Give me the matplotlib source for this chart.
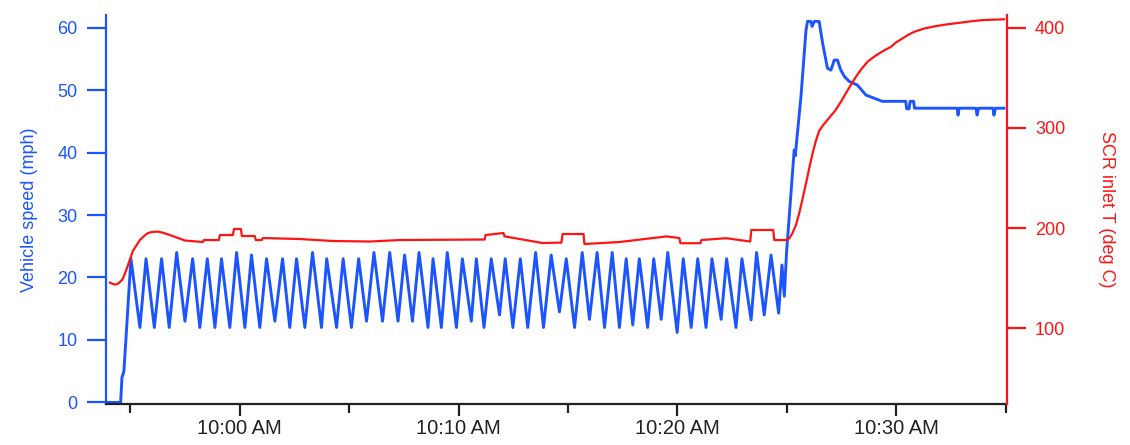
import matplotlib
matplotlib.use("Agg")
import matplotlib.pyplot as plt
import matplotlib.dates as mdates
import pandas as pd

# time in minutes relative to 10:00 AM
speed_min = [
    -6.12, -5.45, -5.39, -5.30, -5.07, -4.98, -4.57, -4.29, -3.91, -3.58,
    -3.23, -2.89, -2.51, -2.16, -1.83, -1.49, -1.14, -0.84, -0.46, -0.15,
    0.23, 0.53, 0.91, 1.22, 1.60, 1.95, 2.28, 2.59, 2.97, 3.32,
    3.73, 3.97, 4.42, 4.72, 5.10, 5.43, 5.79, 6.13, 6.52, 6.85,
    7.23, 7.53, 7.89, 8.19, 8.60, 8.83, 9.21, 9.48, 9.90, 10.17,
    10.58, 10.81, 11.16, 11.49, 11.87, 12.13, 12.48, 12.82, 13.16, 13.52,
    13.88, 14.23, 14.61, 14.92, 15.30, 15.65, 15.98, 16.33, 16.67, 17.02,
    17.35, 17.66, 17.96, 18.26, 18.64, 18.92, 19.26, 19.56, 19.99, 20.27,
    20.63, 20.93, 21.31, 21.58, 22.00, 22.25, 22.68, 22.95, 23.37, 23.62,
    23.97, 24.28, 24.63, 24.78, 24.89, 24.99, 25.34, 25.39, 25.43, 25.65,
    25.88, 25.95, 26.10, 26.16, 26.26, 26.48, 26.64, 26.86, 27.02, 27.17,
    27.32, 27.47, 27.63, 27.85, 28.23, 28.62, 29.37, 30.44, 30.48, 30.59,
    30.64, 30.80, 30.84, 32.79, 32.83, 32.88, 33.65, 33.70, 33.77, 34.43,
    34.47, 34.54, 34.93,
]
speed_mph = [
    0, 0, 4, 5, 18, 23, 12, 23, 12, 23,
    12, 24, 13, 23, 12, 23, 12, 23, 12, 24,
    12, 23.6, 12, 23, 13, 23, 12, 23, 12, 24,
    12, 23, 12, 23, 12, 23, 13, 24, 13, 24,
    13, 23.6, 13, 24, 12, 23, 12, 24, 12, 23,
    13, 23, 12, 23, 14, 23, 12, 23, 12, 24,
    12, 23.6, 14.5, 23, 12, 24, 13.3, 24, 12, 24,
    12, 23, 12.4, 23, 12, 23, 13.3, 24, 11.2, 23,
    12, 23, 12, 23, 13.3, 23, 12, 23, 13.2, 24,
    14, 23.6, 14.3, 22, 17, 24, 40.4, 39.5, 41, 49,
    59.6, 61, 61, 60.2, 61, 61, 57.5, 53.5, 53.2, 54.8,
    54.8, 53.2, 52.2, 51.4, 50.8, 49.2, 48.2, 48.2, 47, 47,
    48.2, 48.2, 47.1, 47.1, 46, 47.1, 47.1, 46, 47.1, 47.1,
    46, 47.1, 47.1,
]

scr_min = [
    -5.94, -5.80, -5.66, -5.53, -5.39, -5.30, -5.16, -4.98, -4.89, -4.75,
    -4.57, -4.38, -4.20, -4.02, -3.74, -3.47, -3.20,
    -2.51, -1.69, -1.64, -0.96, -0.91, -0.32, -0.27, 0.05, 0.09, 0.68,
    0.73, 1.00, 1.05, 2.74, 4.25, 5.94, 7.31, 11.19, 11.23, 12.05,
    12.10, 12.79, 13.84, 14.70, 14.75, 15.71, 15.75, 17.35, 19.50, 20.09,
    20.14, 21.05, 21.10, 22.24, 23.33, 23.38, 24.38, 24.43, 24.96, 25.11,
    25.26, 25.42, 25.57, 25.72, 25.88, 26.03, 26.18, 26.33, 26.48, 26.67,
    26.86, 27.03, 27.24, 27.47, 27.70, 27.93, 28.16, 28.40, 28.69, 28.95,
    29.22, 29.50, 29.76, 30.00, 30.29, 30.55, 30.82, 31.28, 31.81, 32.33,
    32.88, 33.42, 33.94, 34.47, 34.93,
]
scr_temp = [
    145.5, 144, 143.5, 145, 148, 152, 160, 171.5, 177, 182,
    188, 192, 195, 196, 196.4, 195, 193,
    187.5, 186, 188, 188, 193, 193, 199, 199, 192, 192,
    188, 188, 190, 189, 187, 186.5, 188, 188.5, 193, 195,
    191.6, 189, 185, 185.4, 194, 194, 184, 186, 191.6, 190,
    184.8, 184.8, 188, 189.8, 186.5, 198, 198, 188, 188, 189.5,
    194.8, 203, 214.8, 229, 244.7, 260, 274.6, 287, 297, 303,
    308, 312.5, 318, 326, 334.5, 343, 351, 358.5, 366, 370.5,
    374.4, 378, 381, 385.5, 389.4, 393, 396, 399.3, 401.7, 403.5,
    405, 406.5, 407.7, 408.2, 408.5,
]

BLUE = "#1c55ff"
RED = "#ff1414"

plt.rcParams["font.family"] = ["Liberation Sans", "DejaVu Sans"]

t0 = pd.Timestamp("2015-01-01 10:00:00")
speed_t = t0 + pd.to_timedelta(speed_min, unit="m")
scr_t = t0 + pd.to_timedelta(scr_min, unit="m")

fig = plt.figure(figsize=(11.3, 4.45), dpi=100)
ax = fig.add_axes([0.0938, 0.092, 0.797, 0.874])
ax2 = ax.twinx()

ax.plot(speed_t, speed_mph, color=BLUE, lw=2.1)
ax2.plot(scr_t, scr_temp, color=RED, lw=1.6)

ax.set_xlim(t0 + pd.Timedelta(minutes=-6.12), t0 + pd.Timedelta(minutes=35.05))
ax.set_ylim(-0.26, 62.0)
ax2.set_ylim(24.1, 412.7)
ax.set_yticks([0, 10, 20, 30, 40, 50, 60])
ax2.set_yticks([100, 200, 300, 400])

ax.xaxis.set_major_locator(mdates.MinuteLocator(byminute=[0, 10, 20, 30, 40, 50]))
ax.xaxis.set_minor_locator(mdates.MinuteLocator(byminute=[5, 15, 25, 35, 45, 55]))
ax.xaxis.set_major_formatter(mdates.DateFormatter("%I:%M %p"))

for a in (ax, ax2):
    a.spines["top"].set_visible(False)
ax.spines["right"].set_visible(False)
ax2.spines["left"].set_visible(False)
ax2.spines["bottom"].set_visible(False)
ax.spines["left"].set_color(BLUE)
ax.spines["left"].set_linewidth(1.6)
ax2.spines["right"].set_color(RED)
ax2.spines["right"].set_linewidth(1.6)
ax.spines["bottom"].set_color("#222222")
ax.spines["bottom"].set_linewidth(1.6)

ax.tick_params(axis="y", colors=BLUE, labelsize=13, length=13.5, width=1.6, pad=7)
ax2.tick_params(axis="y", colors=RED, labelsize=13, length=13.5, width=1.6, pad=7)
ax.tick_params(axis="x", which="major", colors="#222222", labelsize=14.5,
               length=8.5, width=1.6, pad=2)
ax.tick_params(axis="x", which="minor", colors="#222222", length=6.5, width=1.6)

ax.set_ylabel("Vehicle speed (mph)", color=BLUE, fontsize=13, labelpad=14)
ax2.set_ylabel("SCR inlet T (deg C)", color=RED, fontsize=13, rotation=270,
               labelpad=36)

fig.savefig("out.png", dpi=100)
